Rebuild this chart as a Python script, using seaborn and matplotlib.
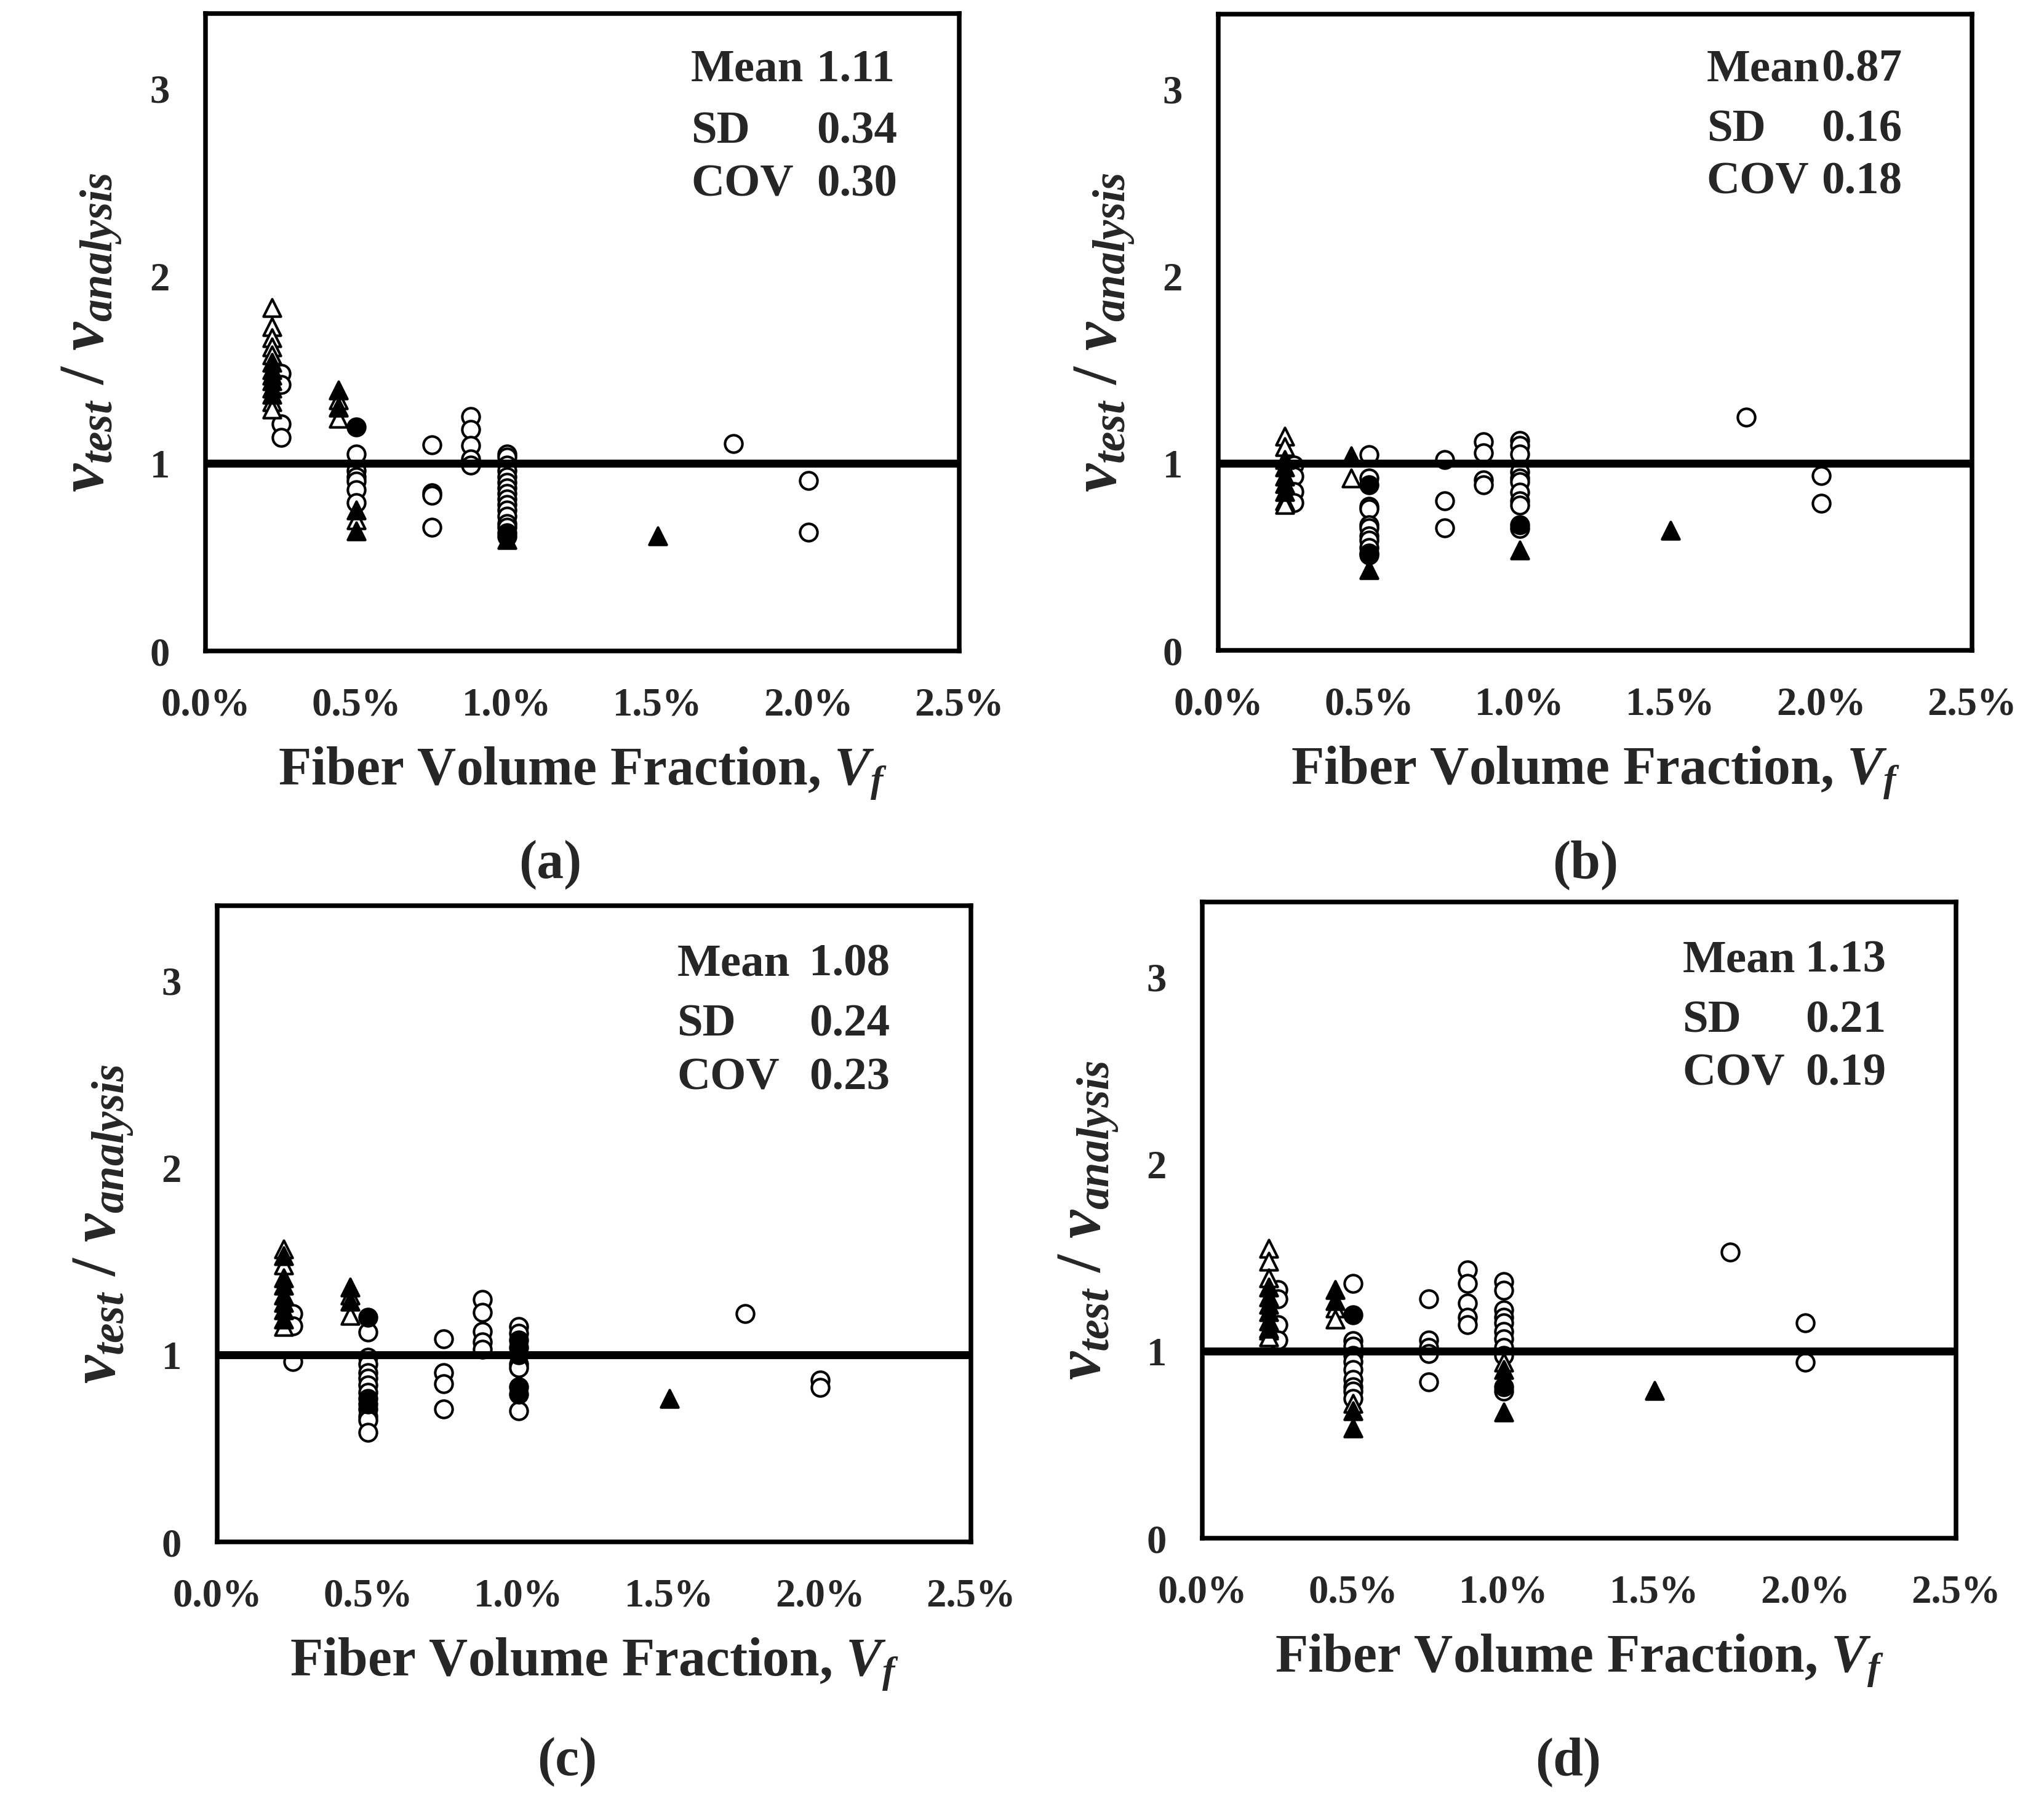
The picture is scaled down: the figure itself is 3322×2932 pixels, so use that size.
import matplotlib
matplotlib.use("Agg")
import matplotlib.pyplot as plt
import pandas as pd
import seaborn as sns
from matplotlib.ticker import PercentFormatter

# ratio v_test / v_analysis, grouped by fiber volume fraction (as a fraction)
A_OPEN_CIRCLE = {
    0.0025: [1.48, 1.42, 1.21, 1.14],
    0.005: [1.05, 0.96, 0.93, 0.905, 0.86, 0.79],
    0.0075: [1.10, 0.845, 0.83, 0.66],
    0.0088: [1.25, 1.18, 1.095, 1.025, 0.99],
    0.010: [1.05, 1.035, 0.99, 0.96, 0.93, 0.90, 0.87, 0.84, 0.81, 0.78, 0.75, 0.72, 0.68, 0.66],
    0.0175: [1.105],
    0.020: [0.91, 0.635],
}
A_FILLED_CIRCLE = {0.005: [1.195], 0.010: [0.63, 0.61]}
A_OPEN_TRIANGLE = {0.0022: [1.83, 1.73, 1.67, 1.62, 1.58, 1.33, 1.29], 0.0044: [1.34, 1.24], 0.005: [0.70]}
A_FILLED_TRIANGLE = {0.0022: [1.54, 1.50, 1.47, 1.44, 1.40, 1.37], 0.0044: [1.39, 1.30],
                     0.005: [0.75, 0.64], 0.010: [0.595], 0.015: [0.615]}

B_OPEN_CIRCLE = {
    0.0025: [0.99, 0.93, 0.85, 0.79],
    0.005: [1.045, 0.92, 0.77, 0.755, 0.67, 0.655, 0.61, 0.59, 0.55, 0.52],
    0.0075: [1.02, 0.80, 0.655],
    0.0088: [1.115, 1.055, 0.91, 0.885],
    0.010: [1.12, 1.095, 1.05, 0.955, 0.92, 0.90, 0.845, 0.80, 0.775, 0.65],
    0.0175: [1.245],
    0.020: [0.935, 0.785],
}
B_FILLED_CIRCLE = {0.005: [0.885, 0.51], 0.010: [0.67]}
B_OPEN_TRIANGLE = {0.0022: [1.145, 1.09, 0.80, 0.78], 0.0044: [0.92]}
B_FILLED_TRIANGLE = {0.0022: [1.02, 0.98, 0.93, 0.89, 0.85], 0.0044: [1.04],
                     0.005: [0.43], 0.010: [0.535], 0.015: [0.64]}

C_OPEN_CIRCLE = {
    0.0025: [1.22, 1.155, 0.965],
    0.005: [1.12, 0.985, 0.95, 0.905, 0.875, 0.84, 0.80, 0.71, 0.67, 0.65, 0.585],
    0.0075: [1.085, 0.905, 0.845, 0.71],
    0.0088: [1.295, 1.225, 1.125, 1.07, 1.03],
    0.010: [1.15, 1.115, 0.95, 0.93, 0.70],
    0.0175: [1.22],
    0.020: [0.865, 0.825],
}
C_FILLED_CIRCLE = {0.005: [1.20, 0.765, 0.735], 0.010: [1.08, 1.04, 1.0, 0.83, 0.79]}
C_OPEN_TRIANGLE = {0.0022: [1.565, 1.48, 1.15], 0.0044: [1.32, 1.21]}
C_FILLED_TRIANGLE = {0.0022: [1.53, 1.41, 1.37, 1.32, 1.28, 1.24, 1.19], 0.0044: [1.36, 1.285],
                     0.015: [0.765]}

D_OPEN_CIRCLE = {
    0.0025: [1.33, 1.28, 1.14, 1.06],
    0.005: [1.36, 1.055, 1.025, 0.975, 0.945, 0.90, 0.85, 0.81, 0.785, 0.745],
    0.0075: [1.28, 1.06, 1.02, 0.985, 0.835],
    0.0088: [1.435, 1.36, 1.255, 1.18, 1.14],
    0.010: [1.37, 1.325, 1.22, 1.18, 1.15, 1.105, 1.065, 1.02, 0.975, 0.785],
    0.0175: [1.53],
    0.020: [1.15, 0.94],
}
D_FILLED_CIRCLE = {0.005: [1.195], 0.010: [0.81]}
D_OPEN_TRIANGLE = {0.0022: [1.55, 1.48, 1.39, 1.11, 1.075], 0.0044: [1.23, 1.17], 0.005: [0.72], 0.010: [0.94]}
D_FILLED_TRIANGLE = {0.0022: [1.34, 1.29, 1.25, 1.21, 1.16, 1.12], 0.0044: [1.33, 1.27],
                     0.005: [0.68, 0.59], 0.010: [0.90, 0.675], 0.015: [0.79]}

STAT_NAMES = ["Mean", "SD", "COV"]
A_STATS = ["1.11", "0.34", "0.30"]
B_STATS = ["0.87", "0.16", "0.18"]
C_STATS = ["1.08", "0.24", "0.23"]
D_STATS = ["1.13", "0.21", "0.19"]
PANEL_LETTERS = ["(a)", "(b)", "(c)", "(d)"]
X_TICKS = [0.0, 0.005, 0.010, 0.015, 0.020, 0.025]
Y_TICKS = [0, 1, 2, 3]

W, H = 3322, 2932
DPI = 300

sns.set_theme(style="white")
plt.rcParams["font.family"] = ["Liberation Serif", "DejaVu Serif"]
plt.rcParams["font.weight"] = "bold"
plt.rcParams["mathtext.fontset"] = "custom"
plt.rcParams["mathtext.rm"] = "Liberation Serif:bold"
plt.rcParams["mathtext.it"] = "Liberation Serif:italic:bold"
plt.rcParams["mathtext.bf"] = "Liberation Serif:bold"

# marker kinds: (marker, face colour), drawn in this order
KINDS = [("o", "white"), ("o", "black"), ("^", "white"), ("^", "black")]


def to_frame(groups):
    rows = [(x, y) for x, ys in groups.items() for y in ys]
    return pd.DataFrame(rows, columns=["vf", "ratio"])


def px_box(left, top, right, bottom):
    return [left / W, 1 - bottom / H, (right - left) / W, (bottom - top) / H]


def draw_panel(fig, box, series, stats, stat_x, stat_y):
    ax = fig.add_axes(box)
    for groups, (marker, face) in zip(series, KINDS):
        sns.scatterplot(data=to_frame(groups), x="vf", y="ratio", marker=marker, s=46,
                        color=face, edgecolor="black", linewidth=1.0, legend=False,
                        ax=ax, zorder=3)
    ax.axhline(1.0, color="black", lw=3.1, zorder=5)

    ax.set_xlim(0, 0.025)
    ax.set_ylim(0, 3.4)
    ax.set_xticks(X_TICKS)
    ax.set_yticks(Y_TICKS)
    ax.xaxis.set_major_formatter(PercentFormatter(xmax=1, decimals=1))
    ax.tick_params(length=0, pad=14, labelsize=15.5)
    for lab in ax.get_xticklabels() + ax.get_yticklabels():
        lab.set_fontweight("bold")
    for sp in ax.spines.values():
        sp.set_visible(True)
        sp.set_color("black")
        sp.set_linewidth(1.8)
    ax.grid(False)

    ax.set_xlabel(r"Fiber Volume Fraction, $V_f$", fontsize=21, fontweight="bold")
    ax.set_ylabel(r"$v_{test}$ / $v_{analysis}$", fontsize=25, fontweight="bold")
    ax.xaxis.set_label_coords(0.5, -0.148)
    ax.yaxis.set_label_coords(-0.108, 0.5)

    for name, val, y in zip(STAT_NAMES, stats, stat_y):
        ax.text(stat_x[0], y, name, transform=ax.transAxes, fontsize=18,
                fontweight="bold", va="baseline", ha="left")
        ax.text(stat_x[1], y, val, transform=ax.transAxes, fontsize=18,
                fontweight="bold", va="baseline", ha="left")
    return ax


fig = plt.figure(figsize=(W / DPI, H / DPI), dpi=DPI, facecolor="white")

draw_panel(fig, px_box(334, 22, 1559, 1058),
           [A_OPEN_CIRCLE, A_FILLED_CIRCLE, A_OPEN_TRIANGLE, A_FILLED_TRIANGLE],
           A_STATS, (0.644, 0.811), (0.894, 0.797, 0.714))
draw_panel(fig, px_box(1980, 23, 3205, 1057),
           [B_OPEN_CIRCLE, B_FILLED_CIRCLE, B_OPEN_TRIANGLE, B_FILLED_TRIANGLE],
           B_STATS, (0.648, 0.800), (0.895, 0.800, 0.718))
draw_panel(fig, px_box(353, 1472, 1578, 2506),
           [C_OPEN_CIRCLE, C_FILLED_CIRCLE, C_OPEN_TRIANGLE, C_FILLED_TRIANGLE],
           C_STATS, (0.610, 0.785), (0.890, 0.795, 0.711))
draw_panel(fig, px_box(1954, 1466, 3179, 2500),
           [D_OPEN_CIRCLE, D_FILLED_CIRCLE, D_OPEN_TRIANGLE, D_FILLED_TRIANGLE],
           D_STATS, (0.637, 0.800), (0.890, 0.795, 0.712))

for letter, (px, py) in zip(PANEL_LETTERS, [(894, 1406), (2577, 1406), (922, 2864), (2549, 2864)]):
    fig.text(px / W, 1 - py / H, letter, fontsize=21, fontweight="bold", ha="center", va="center")

fig.savefig("out.png", dpi=DPI, facecolor="white")
